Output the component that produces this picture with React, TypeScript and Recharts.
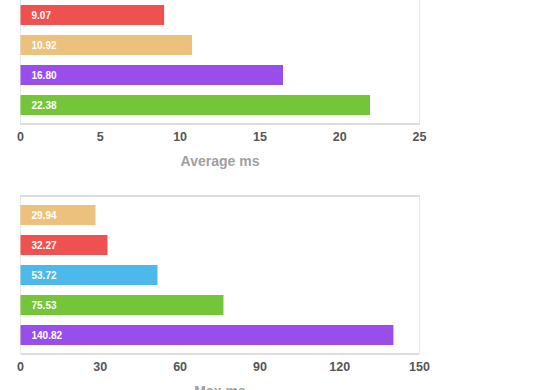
import { BarChart, Bar, XAxis, YAxis, Cell, LabelList, CartesianGrid } from 'recharts';

const avgNames = ['a', 'b', 'c', 'd'];
const avgValues = [9.0, 10.75, 16.45, 21.9];
const avgLabels = ['9.07', '10.92', '16.80', '22.38'];
const avgColors = ['#ef5050', '#ecc17d', '#994eeb', '#74c53a'];
const avgTicks = [0, 5, 10, 15, 20, 25];

const maxNames = ['a', 'b', 'c', 'd', 'e'];
const maxValues = [28.2, 32.7, 51.5, 76.3, 140.2];
const maxLabels = ['29.94', '32.27', '53.72', '75.53', '140.82'];
const maxColors = ['#ecc17d', '#ef5050', '#4db9eb', '#74c53a', '#994eeb'];
const maxTicks = [0, 30, 60, 90, 120, 150];

const font = '"Liberation Sans", Arial, sans-serif';
const border = '#bbb';

type PanelProps = {
  names: string[];
  values: number[];
  labels: string[];
  colors: string[];
  ticks: number[];
  label: string;
  top: number;
};

function Panel({ names, values, labels, colors, ticks, label, top }: PanelProps) {
  const data = names.map((n, i) => ({ name: n, value: values[i], label: labels[i] }));
  const max = ticks[ticks.length - 1];
  const plotH = names.length * 30 + 8;
  // a 2px tall top axis holds the top border line of the plot frame
  return (
    <div style={{ position: 'absolute', left: 0, top: top - 2 }}>
      <BarChart
        width={560}
        height={plotH + 52}
        data={data}
        layout="vertical"
        margin={{ top: 0, right: 140.5, bottom: 6, left: 20.5 }}
      >
        <CartesianGrid horizontal={false} stroke="#e8e8e8" />
        <XAxis
          xAxisId="b"
          type="number"
          domain={[0, max]}
          ticks={ticks}
          tickLine={false}
          axisLine={{ stroke: border }}
          height={44}
          tick={{ fill: '#555', fontSize: 12.5, fontFamily: font, fontWeight: 'bold' }}
          label={{
            value: label,
            position: 'insideBottom',
            offset: 2,
            fill: '#a0a0a0',
            fontSize: 14,
            fontWeight: 'bold',
            fontFamily: font,
          }}
        />
        <XAxis
          xAxisId="t"
          orientation="top"
          type="number"
          domain={[0, max]}
          ticks={ticks}
          height={2}
          tick={false}
          tickLine={false}
          axisLine={{ stroke: border }}
        />
        <YAxis
          yAxisId="l"
          type="category"
          dataKey="name"
          width={0}
          tick={false}
          tickLine={false}
          axisLine={{ stroke: border }}
          padding={{ top: 4, bottom: 4 }}
        />
        <YAxis
          yAxisId="r"
          orientation="right"
          type="category"
          dataKey="name"
          width={0}
          tick={false}
          tickLine={false}
          axisLine={{ stroke: border }}
          padding={{ top: 4, bottom: 4 }}
        />
        <Bar dataKey="value" xAxisId="b" yAxisId="l" barSize={20} isAnimationActive={false}>
          {data.map((d, i) => (
            <Cell key={d.name} fill={colors[i]} />
          ))}
          <LabelList
            dataKey="label"
            position="insideLeft"
            offset={11}
            fill="#fff"
            fontSize={10}
            fontWeight="bold"
            fontFamily={font}
          />
        </Bar>
      </BarChart>
    </div>
  );
}

export default function App() {
  return (
    <div style={{ position: 'absolute', left: 0, top: 0, width: 560, height: 390, overflow: 'hidden', background: '#fff' }}>
      <Panel names={avgNames} values={avgValues} labels={avgLabels} colors={avgColors} ticks={avgTicks} label="Average ms" top={-4.5} />
      <Panel names={maxNames} values={maxValues} labels={maxLabels} colors={maxColors} ticks={maxTicks} label="Max ms" top={195.5} />
    </div>
  );
}
